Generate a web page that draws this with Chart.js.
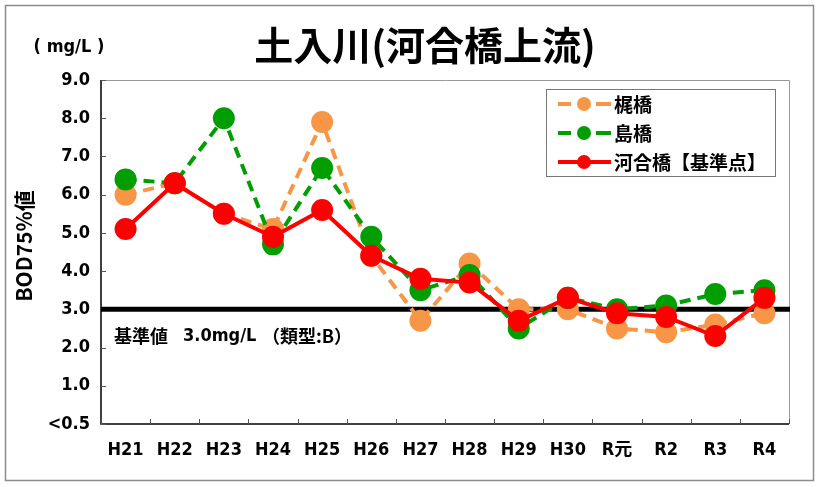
<!DOCTYPE html>
<html>
<head>
<meta charset="utf-8">
<script src="https://cdn.jsdelivr.net/npm/chart.js@4"></script>
<style>
  html, body { margin: 0; padding: 0; background: #fff; }
  #wrap { width: 819px; height: 487px; position: relative; }
</style>
</head>
<body>
<div id="wrap"><canvas id="bodChart" width="819" height="487"></canvas></div>
<script>
// data
const years = ["H21", "H22", "H23", "H24", "H25", "H26", "H27", "H28", "H29", "H30", "R元", "R2", "R3", "R4"];
const kajiBashi = [6.0, 6.3, 5.5, 5.1, 7.9, 4.4, 2.7, 4.2, 3.0, 3.0, 2.5, 2.4, 2.6, 2.9];
const shimaBashi = [6.4, 6.3, 8.0, 4.7, 6.7, 4.9, 3.5, 3.9, 2.5, 3.3, 3.0, 3.1, 3.4, 3.5];
const kawaiBashi = [5.1, 6.3, 5.5, 4.9, 5.6, 4.4, 3.8, 3.7, 2.7, 3.3, 2.9, 2.8, 2.3, 3.3];
const yTicks = [0, 1, 2, 3, 4, 5, 6, 7, 8, 9];
const standardValue = 3.0;

const FONT = "'Liberation Sans Narrow', 'DejaVu Sans Condensed', 'Noto Sans CJK JP', sans-serif";
const JFONT = "'Noto Sans CJK JP', sans-serif";

// frame, title, inward tick marks, standard line, legend
const decor = {
  id: "decor",
  beforeDraw(chart) {
    const c = chart.ctx;
    c.save();
    c.fillStyle = "#fff";
    c.fillRect(0, 0, chart.width, chart.height);
    c.strokeStyle = "#8c8c8c";
    c.lineWidth = 1.5;
    c.strokeRect(5.5, 5.5, 808, 475);
    c.restore();
  },
  beforeDatasetsDraw(chart) {
    const c = chart.ctx, a = chart.chartArea;
    const x = chart.scales.x, y = chart.scales.y;
    c.save();
    // plot frame
    c.strokeStyle = "#999";
    c.lineWidth = 1;
    c.beginPath();
    c.moveTo(a.left, a.top + 0.5); c.lineTo(a.right + 0.5, a.top + 0.5); c.lineTo(a.right + 0.5, a.bottom);
    c.stroke();
    c.strokeStyle = "#000";
    c.lineWidth = 1.5;
    c.beginPath();
    c.moveTo(a.left, a.top); c.lineTo(a.left, a.bottom); c.lineTo(a.right, a.bottom);
    c.stroke();
    // inward tick marks
    c.lineWidth = 1;
    c.strokeStyle = "#555";
    c.beginPath();
    yTicks.forEach(v => {
      const py = Math.round(y.getPixelForValue(v)) + 0.5;
      c.moveTo(a.left, py); c.lineTo(a.left + 5, py);
    });
    for (let i = 0; i <= years.length; i++) {
      const px = Math.round(x.getPixelForValue(i - 0.5)) + 0.5;
      c.moveTo(px, a.bottom); c.lineTo(px, a.bottom - 5);
    }
    c.stroke();
    // standard line
    const sy = y.getPixelForValue(standardValue);
    c.strokeStyle = "#000";
    c.lineWidth = 5;
    c.beginPath();
    c.moveTo(a.left, sy); c.lineTo(a.right + 1, sy);
    c.stroke();
    c.fillStyle = "#000";
    c.textBaseline = "middle";
    c.textAlign = "left";
    c.font = "bold 18px " + JFONT;
    c.fillText("基準値", 114, sy + 27);
    c.font = "bold 18px " + FONT;
    c.fillText("3.0mg/L", 183, sy + 27);
    c.font = "bold 18px " + JFONT;
    c.fillText("（類型:B）", 262, sy + 27);
    c.restore();
  },
  afterDraw(chart) {
    const c = chart.ctx;
    c.save();
    c.fillStyle = "#000";
    c.textBaseline = "middle";
    // title
    c.textAlign = "center";
    c.font = "bold 39px " + JFONT;
    c.fillText("土入川(河合橋上流)", 425, 45);
    c.font = "bold 18px " + FONT;
    c.fillText("( mg/L )", 69, 47);
    // y axis title
    c.translate(24, 246);
    c.rotate(-Math.PI / 2);
    c.font = "bold 21px " + JFONT;
    c.fillText("BOD75%値", 0, 0);
    c.restore();
    // legend
    c.save();
    const lx = 546, ly = 89;
    c.fillStyle = "#fff";
    c.fillRect(lx, ly, 229, 87);
    c.strokeStyle = "#777";
    c.lineWidth = 1;
    c.strokeRect(lx + 0.5, ly + 0.5, 229, 87);
    chart.data.datasets.forEach((ds, i) => {
      const cy = ly + 15 + i * 29;
      c.strokeStyle = ds.borderColor;
      c.lineWidth = 4;
      c.beginPath();
      if (ds.borderDash) {
        c.moveTo(lx + 12, cy); c.lineTo(lx + 25, cy);
        c.moveTo(lx + 50, cy); c.lineTo(lx + 65, cy);
      } else {
        c.moveTo(lx + 12, cy); c.lineTo(lx + 65, cy);
      }
      c.stroke();
      c.fillStyle = ds.pointBackgroundColor;
      c.beginPath();
      c.arc(lx + 38, cy, 7, 0, Math.PI * 2);
      c.fill();
      c.fillStyle = "#000";
      c.font = "bold 19px " + JFONT;
      c.textAlign = "left";
      c.textBaseline = "middle";
      c.fillText(ds.label, lx + 68, cy + 1);
    });
    c.restore();
  }
};

function series(label, data, color, dashed, order) {
  return {
    label: label,
    data: data,
    borderColor: color,
    backgroundColor: color,
    pointBackgroundColor: color,
    pointBorderColor: color,
    pointRadius: 9,
    pointHoverRadius: 9,
    borderWidth: 4,
    borderDash: dashed ? [11, 7] : undefined,
    tension: 0,
    order: order
  };
}

new Chart(document.getElementById("bodChart"), {
  type: "line",
  data: {
    labels: years,
    datasets: [
      series("梶橋", kajiBashi, "#F79646", true, 3),
      series("島橋", shimaBashi, "#009E00", true, 2),
      series("河合橋【基準点】", kawaiBashi, "#FF0000", false, 1)
    ]
  },
  options: {
    responsive: false,
    animation: false,
    events: [],
    layout: { padding: { top: 80, right: 30, left: 0, bottom: 0 } },
    plugins: { legend: { display: false }, tooltip: { enabled: false } },
    scales: {
      x: {
        offset: true,
        grid: { display: false, drawTicks: false },
        border: { display: false },
        ticks: { color: "#000", font: { family: FONT, size: 18, weight: "bold" }, padding: 16, maxRotation: 0, autoSkip: false },
        afterFit(s) { s.height = 63; }
      },
      y: {
        min: 0,
        max: 9,
        grid: { display: false, drawTicks: false },
        border: { display: false },
        afterBuildTicks(s) { s.ticks = yTicks.map(v => ({ value: v })); },
        ticks: {
          color: "#000",
          padding: 11,
          font: { family: FONT, size: 18, weight: "bold" },
          callback: v => v === 0 ? "<0.5" : v.toFixed(1)
        },
        afterFit(s) { s.width = 101; }
      }
    }
  },
  plugins: [decor]
});
</script>
</body>
</html>
